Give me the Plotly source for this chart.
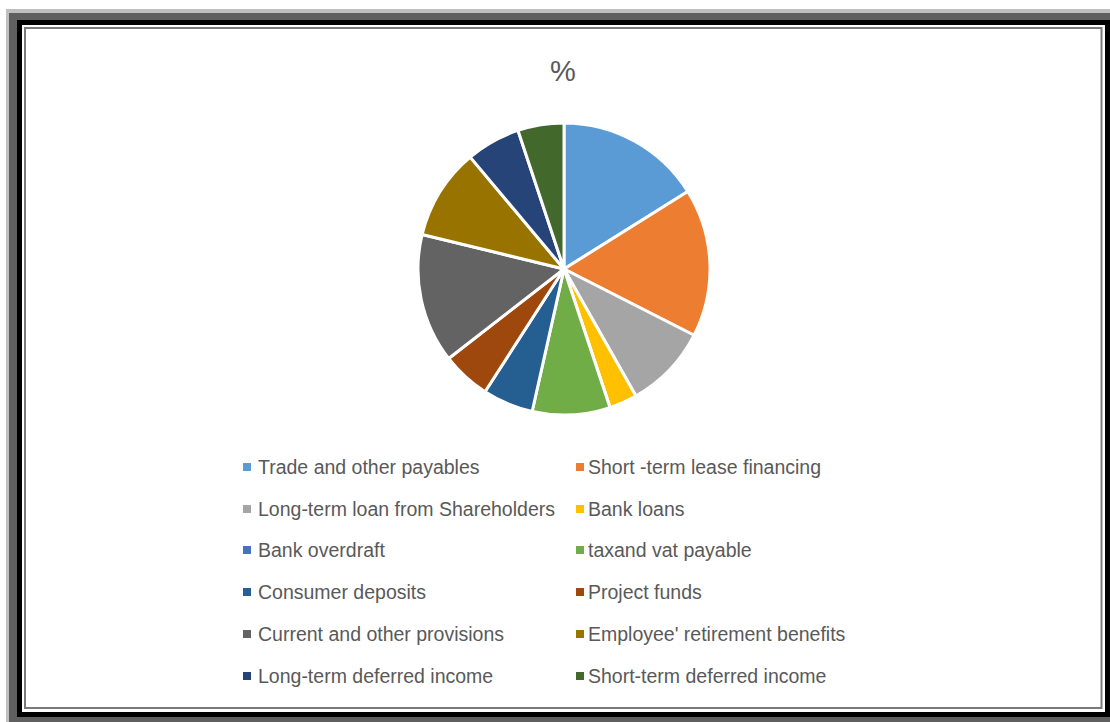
import plotly.graph_objects as go

labels = [
    "Trade and other payables", "Short -term lease financing",
    "Long-term loan from Shareholders", "Bank loans",
    "Bank overdraft", "taxand vat payable",
    "Consumer deposits", "Project funds",
    "Current and other provisions", "Employee' retirement benefits",
    "Long-term deferred income", "Short-term deferred income",
]
values = [16.1, 16.4, 9.3, 3.1, 0.0, 8.6, 5.6, 5.4, 14.3, 10.1, 6.0, 5.1]
colors = ["#5B9BD5", "#ED7D31", "#A5A5A5", "#FFC000", "#4472C4", "#70AD47",
          "#255E91", "#9E480E", "#636363", "#997300", "#264478", "#43682B"]
title_text = "%"

W, H = 1110, 722

def px(x):
    return x / W

def py(y):
    return 1 - y / H

# pie geometry (pixels)
cx, cy, r = 564, 269, 146

fig = go.Figure()
fig.add_trace(go.Pie(
    labels=labels, values=values, sort=False, direction="clockwise", rotation=0,
    marker=dict(colors=colors, line=dict(color="white", width=3)),
    textinfo="none", hoverinfo="label+value", showlegend=False,
    domain=dict(x=[px(cx - r), px(cx + r)], y=[py(cy + r), py(cy - r)]),
))

shapes = []
def rect(x0, y0, x1, y1, fill, line=None, lw=0):
    return dict(type="rect", xref="paper", yref="paper", layer="below",
                x0=px(x0), x1=px(x1), y0=py(y1), y1=py(y0),
                fillcolor=fill, line=dict(width=lw, color=line or fill))

# frame
shapes.append(rect(6, 9, 1130, 740, "#BFBFBF"))
shapes.append(rect(9, 13, 1130, 740, "#5F5F5F"))
shapes.append(rect(17, 20, 1130, 717, "#000000"))
shapes.append(rect(22, 25, 1105, 712, "#FFFFFF"))
shapes.append(dict(type="rect", xref="paper", yref="paper", layer="below",
                   x0=px(25), x1=px(1101.5), y0=py(708), y1=py(28),
                   fillcolor="white", line=dict(width=2, color="#7A7A7A")))

annotations = []
col_marker = [247, 580]
col_text = [256, 586]
rows = [467, 509, 550, 592, 634, 676]
for i, (lab, col) in enumerate(zip(labels, colors)):
    c, rr = i % 2, i // 2
    yy = rows[rr]
    xm = col_marker[c]
    shapes.append(dict(type="rect", xref="paper", yref="paper", layer="above",
                       x0=px(xm - 4), x1=px(xm + 4), y0=py(yy + 4), y1=py(yy - 4),
                       fillcolor=col, line=dict(width=0)))
    annotations.append(dict(xref="paper", yref="paper", x=px(col_text[c]), y=py(yy),
                            xanchor="left", yanchor="middle", showarrow=False,
                            text=lab, font=dict(family="Liberation Sans", size=19.5, color="#595959")))

annotations.append(dict(xref="paper", yref="paper", x=px(563), y=py(71),
                        xanchor="center", yanchor="middle", showarrow=False,
                        text=title_text, font=dict(family="Liberation Sans", size=29, color="#595959")))

fig.update_layout(
    width=W, height=H, margin=dict(l=0, r=0, t=0, b=0, pad=0),
    paper_bgcolor="white", plot_bgcolor="white",
    shapes=shapes, annotations=annotations, showlegend=False,
)

fig.write_html("out.html")
